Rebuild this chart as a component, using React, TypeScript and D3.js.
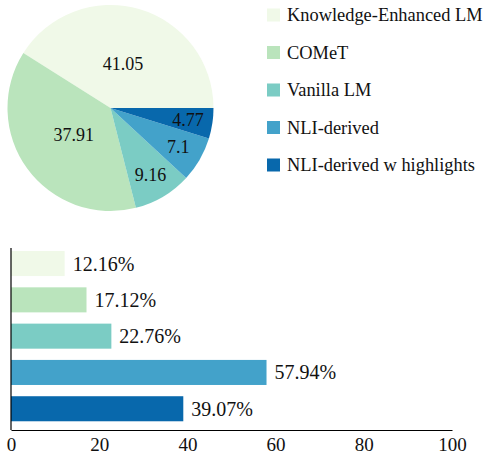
import React, { useEffect, useRef } from 'react';
import { select, pie, arc, scaleLinear, scaleBand, axisBottom } from 'd3';

const categories = [
  'Knowledge-Enhanced LM',
  'COMeT',
  'Vanilla LM',
  'NLI-derived',
  'NLI-derived w highlights',
];
const pieValues = [41.05, 37.91, 9.16, 7.1, 4.77];
const barValues = [12.16, 17.12, 22.76, 57.94, 39.07];
const colors = ['#f0f9e8', '#bae4bc', '#7bccc4', '#43a2ca', '#0868ac'];
const xTicks = [0, 20, 40, 60, 80, 100];

const W = 487;
const H = 454;
const FONT = 'Liberation Serif';

const App: React.FC = () => {
  const svgRef = useRef<SVGSVGElement>(null);

  useEffect(() => {
    if (!svgRef.current) return;
    const svg = select(svgRef.current);
    svg.selectAll('*').remove();

    // Pie (counterclockwise from 3 o'clock, like matplotlib)
    const cx = 110.5;
    const cy = 108;
    const R = 103;
    const pieGen = pie<number>()
      .sort(null)
      .startAngle(Math.PI / 2)
      .endAngle(Math.PI / 2 - 2 * Math.PI);
    const arcs = pieGen(pieValues);
    const arcGen = arc<any>().innerRadius(0).outerRadius(R);

    const pg = svg.append('g').attr('transform', `translate(${cx},${cy})`);
    pg.selectAll('path')
      .data(arcs)
      .join('path')
      .attr('d', arcGen)
      .attr('fill', (_d, i) => colors[i]);

    pg.selectAll('text')
      .data(arcs)
      .join('text')
      .attr('transform', d => {
        const a = (d.startAngle + d.endAngle) / 2;
        const r = R * (d.data > 20 ? 0.44 : 0.76);
        return `translate(${Math.sin(a) * r},${-Math.cos(a) * r})`;
      })
      .attr('text-anchor', 'middle')
      .attr('dominant-baseline', 'central')
      .attr('font-family', FONT)
      .attr('font-size', 18)
      .attr('fill', '#111')
      .text(d => String(d.data));

    // Legend
    const lg = svg.append('g');
    const rows = lg.selectAll('g')
      .data(categories)
      .join('g')
      .attr('transform', (_d, i) => `translate(267,${15 + i * 37.5})`);
    rows.append('rect')
      .attr('x', 0)
      .attr('y', -6.5)
      .attr('width', 13)
      .attr('height', 13)
      .attr('fill', (_d, i) => colors[i]);
    rows.append('text')
      .attr('x', 20)
      .attr('dominant-baseline', 'central')
      .attr('font-family', FONT)
      .attr('font-size', 18.4)
      .attr('fill', '#111')
      .text(d => d);

    // Bars
    const x = scaleLinear().domain([0, 100]).range([11, 452]);
    const y = scaleBand<string>()
      .domain(categories)
      .range([245.4, 426.9])
      .paddingInner(0.31)
      .paddingOuter(0.155);

    const bg = svg.append('g');
    bg.selectAll('rect')
      .data(barValues)
      .join('rect')
      .attr('x', x(0))
      .attr('y', (_d, i) => y(categories[i])!)
      .attr('width', d => x(d) - x(0))
      .attr('height', y.bandwidth())
      .attr('fill', (_d, i) => colors[i]);

    bg.selectAll('text')
      .data(barValues)
      .join('text')
      .attr('x', d => x(d) + 8)
      .attr('y', (_d, i) => y(categories[i])! + y.bandwidth() / 2)
      .attr('dominant-baseline', 'central')
      .attr('font-family', FONT)
      .attr('font-size', 20)
      .attr('fill', '#111')
      .text(d => `${d.toFixed(2)}%`);

    // Axes
    const xAxis = svg.append('g')
      .attr('transform', 'translate(0,430)')
      .call(axisBottom(x).tickValues(xTicks).tickSize(0).tickPadding(7.5));
    xAxis.attr('font-family', FONT).attr('font-size', 19);
    xAxis.select('.domain').attr('stroke', '#000').attr('stroke-width', 1.2);
    xAxis.selectAll('text').attr('fill', '#111');

    svg.append('line')
      .attr('x1', 11)
      .attr('x2', 11)
      .attr('y1', 248)
      .attr('y2', 430)
      .attr('stroke', '#000')
      .attr('stroke-width', 1.2);
  }, []);

  return (
    <svg
      ref={svgRef}
      width={W}
      height={H}
      style={{ position: 'absolute', left: 0, top: 0, background: '#fff' }}
    />
  );
};

export default App;
